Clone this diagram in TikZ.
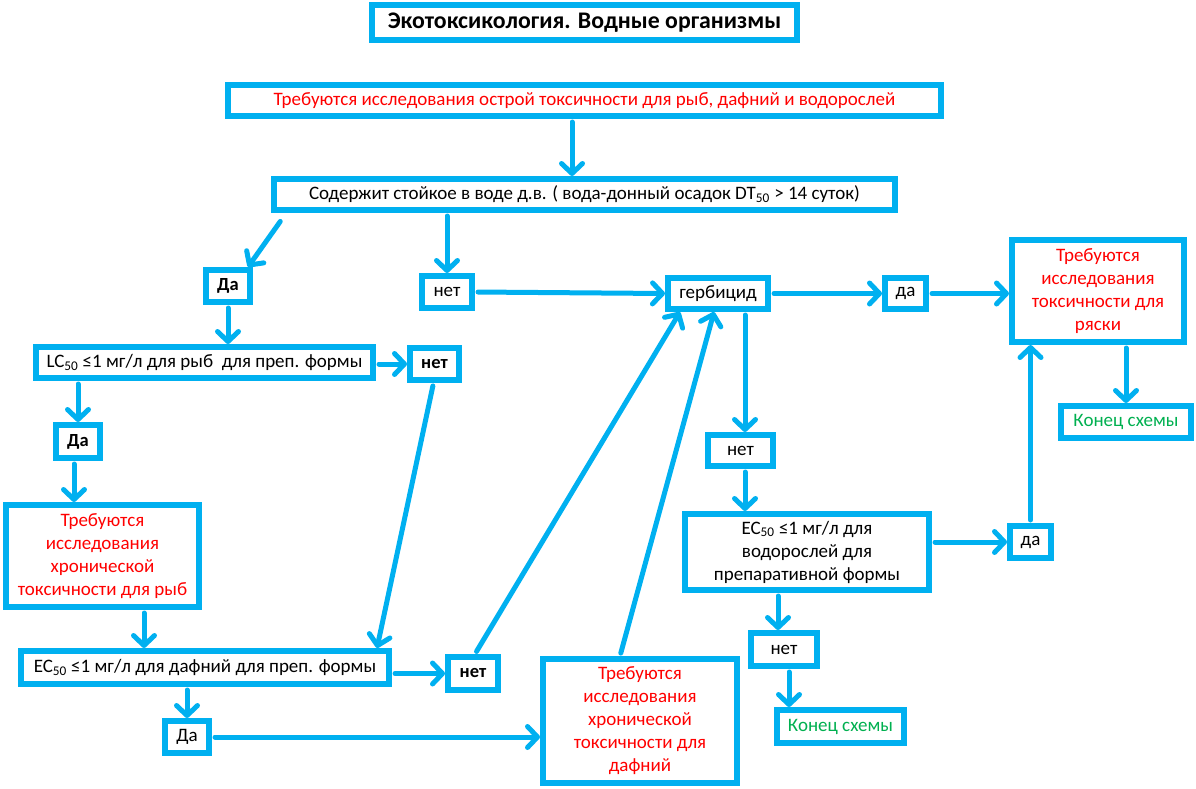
\documentclass[tikz,border=0pt]{standalone}
\usepackage{fontspec}
\setmainfont{Carlito}
\usetikzlibrary{arrows.meta}
\definecolor{cy}{HTML}{00B0F0}
\definecolor{rd}{HTML}{FF0000}
\definecolor{gr}{HTML}{00B050}
\begin{document}
\begin{tikzpicture}[x=1pt,y=-1pt,
  box/.style={draw=cy, line width=6pt, fill=white, inner sep=1pt, align=center,
    font=\fontsize{19}{23}\selectfont},
  boldbox/.style={box, font=\fontsize{18.5}{23}\selectfont\bfseries},
  redt/.style={text=rd},
  greent/.style={text=gr},
  arr/.style={draw=cy, line width=5pt, line cap=round, shorten <=3pt,
    -{Straight Barb[length=10pt,width=21pt,round]}}]
\useasboundingbox (0,0) rectangle (1196,789);
% nodes
\node[box, minimum width=425pt, minimum height=35pt, font=\fontsize{23.8}{26}\selectfont\bfseries] (title) at (584.5,22.5) {Экотоксикология. Водные организмы};
\node[box, redt, minimum width=713pt, minimum height=31pt] (acute) at (584.5,100.5) {Требуются исследования острой токсичности для рыб, дафний и водорослей};
\node[box, minimum width=621pt, minimum height=31pt] (persist) at (584.5,194.5) {Содержит стойкое в воде д.в. ( вода-донный осадок DT\textsubscript{50} > 14 суток)};
\node[boldbox, minimum width=44pt, minimum height=32pt] (da1) at (228,286) {Да};
\node[box, minimum width=50pt, minimum height=32pt] (net1) at (447,292) {нет};
\node[box, minimum width=337pt, minimum height=31pt] (lc) at (204.5,362.5) {LC\textsubscript{50} ≤1 мг/л для рыб\ \ для преп. формы};
\node[boldbox, minimum width=49pt, minimum height=32pt] (net2) at (434.5,364) {нет};
\node[boldbox, minimum width=44pt, minimum height=33pt] (da2) at (78,441.5) {Да};
\node[box, redt, minimum width=193pt, minimum height=102pt] (fish) at (102.5,556) {Требуются\\исследования\\хронической\\токсичности для рыб};
\node[box, minimum width=368pt, minimum height=33pt] (ecd) at (205,667.5) {EC\textsubscript{50} ≤1 мг/л для дафний для преп. формы};
\node[boldbox, minimum width=50pt, minimum height=33pt] (net3) at (473,673.5) {нет};
\node[box, minimum width=44pt, minimum height=32pt] (da3) at (187,737) {Да};
\node[box, redt, minimum width=194pt, minimum height=124pt] (daph) at (640,721) {Требуются\\исследования\\хронической\\токсичности для\\дафний};
\node[box, minimum width=100pt, minimum height=31pt] (herb) at (718,293.5) {гербицид};
\node[box, minimum width=41pt, minimum height=31pt] (da4) at (905.5,293.5) {да};
\node[box, redt, minimum width=172pt, minimum height=102pt] (rya) at (1098,291) {Требуются\\исследования\\токсичности для\\ряски};
\node[box, greent, minimum width=130pt, minimum height=32pt] (end1) at (1126,422) {Конец схемы};
\node[box, minimum width=65pt, minimum height=31pt] (net4) at (740.5,450.5) {нет};
\node[box, minimum width=244pt, minimum height=76pt] (eca) at (807,552) {EC\textsubscript{50} ≤1 мг/л для\\водорослей для\\препаративной формы};
\node[box, minimum width=41pt, minimum height=32pt] (da5) at (1030.5,542) {да};
\node[box, minimum width=66pt, minimum height=33pt] (net5) at (784,649.5) {нет};
\node[box, greent, minimum width=127pt, minimum height=33pt] (end2) at (840.5,726.5) {Конец схемы};
% connectors
\draw[arr] ([xshift=-12.5pt]acute.south) -- ([xshift=-12.5pt]persist.north);
\draw[arr] ([xshift=11pt,yshift=-6pt]persist.south west) -- ([xshift=-5pt]da1.north east);
\draw[arr] (persist.south -| net1.north) -- (net1.north);
\draw[arr] (net1.east) -- (herb.west);
\draw[arr] (herb.east) -- (da4.west);
\draw[arr] (da4.east) -- (da4.east -| rya.west);
\draw[arr] (da1.south) -- (da1.south |- lc.north);
\draw[arr] (net2.west -| lc.east) -- (net2.west);
\draw[arr] (lc.south -| da2.north) -- (da2.north);
\draw[arr] ([xshift=-4pt]da2.south) -- ([xshift=-4pt]da2.south |- fish.north);
\draw[arr] ([xshift=-1pt]net2.south) -- ([xshift=172pt]ecd.north);
\draw[arr] ([xshift=41.5pt]fish.south) -- ([xshift=41.5pt]fish.south |- ecd.north);
\draw[arr] (net3.west -| ecd.east) -- (net3.west);
\draw[arr] (da3.north |- ecd.south) -- (da3.north);
\draw[arr] (da3.east) -- (da3.east -| daph.west);
\draw[arr] ([xshift=2pt]net3.north) -- ([xshift=-38pt]herb.south);
\draw[arr] ([xshift=-20pt]daph.north) -- ([xshift=-4pt]herb.south);
\draw[arr] ([xshift=27pt]herb.south) -- ([xshift=4.5pt]net4.north);
\draw[arr] ([xshift=4.5pt]net4.south) -- ([xshift=4.5pt]net4.south |- eca.north);
\draw[arr] (da5.west -| eca.east) -- (da5.west);
\draw[arr] (da5.north) -- (da5.north |- rya.south);
\draw[arr] (end1.north |- rya.south) -- (end1.north);
\draw[arr] ([xshift=-6pt]net5.north |- eca.south) -- ([xshift=-6pt]net5.north);
\draw[arr] ([xshift=5pt]net5.south) -- ([xshift=5pt]net5.south |- end2.north);
\end{tikzpicture}
\end{document}
